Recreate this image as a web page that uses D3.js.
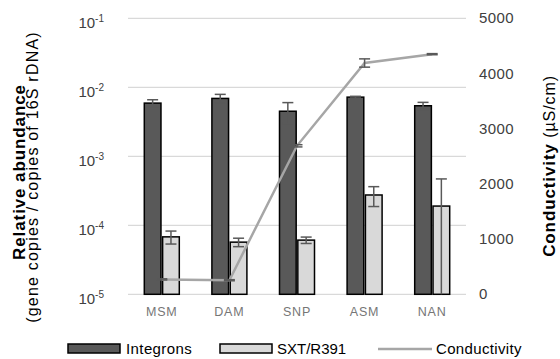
<!DOCTYPE html>
<html>
<head>
<style>
  html, body { margin: 0; padding: 0; background: #fff; overflow: hidden; }
  text { font-family: "Liberation Sans", Arial, sans-serif; }
</style>
</head>
<body>
<script src="https://d3js.org/d3.v7.min.js"></script>
<script>
  // data
  const sites = ["MSM", "DAM", "SNP", "ASM", "NAN"];
  const integrons = [5.9e-3, 6.9e-3, 4.5e-3, 7.2e-3, 5.4e-3];
  const integronsErr = [0.7e-3, 1.0e-3, 1.5e-3, 0.2e-3, 0.65e-3];
  const sxt = [6.8e-5, 5.7e-5, 6.1e-5, 2.75e-4, 1.9e-4];
  const sxtErr = [1.45e-5, 0.8e-5, 0.65e-5, 0.88e-4, 2.8e-4];
  const conductivity = [270, 255, 2690, 4190, 4350];
  const conductivityErr = [10, 10, 20, 75, 10];
  const leftTicks = [1e-5, 1e-4, 1e-3, 1e-2, 1e-1];
  const rightTicks = [0, 1000, 2000, 3000, 4000, 5000];

  const width = 560, height = 359;
  const plotLeft = 128, plotRight = 466, plotTop = 18.3, plotBottom = 294.3;

  const svg = d3.select("body").append("svg")
    .attr("width", width)
    .attr("height", height);

  const x0 = d3.scaleBand().domain(sites).range([plotLeft, plotRight]);
  const x1 = d3.scaleBand().domain(["Integrons", "SXT/R391"])
    .range([x0.bandwidth() / 2 - 17.5, x0.bandwidth() / 2 + 17.5])
    .paddingInner(0.09);
  const y = d3.scaleLog().domain([1e-5, 1e-1]).range([plotBottom, plotTop]);
  const y2 = d3.scaleLinear().domain([0, 5000]).range([plotBottom, plotTop]);
  const cx = d => x0(d) + x0.bandwidth() / 2;

  // gridlines
  svg.append("g").selectAll("line")
    .data(leftTicks)
    .join("line")
    .attr("x1", plotLeft).attr("x2", plotRight)
    .attr("y1", d => y(d)).attr("y2", d => y(d))
    .attr("stroke", "#d9d9d9")
    .attr("stroke-width", 1.3);

  // left tick labels 10^n
  const lt = svg.append("g").selectAll("text")
    .data(leftTicks)
    .join("text")
    .attr("x", 104)
    .attr("y", d => y(d) + 9.3)
    .attr("text-anchor", "end")
    .attr("font-size", 15)
    .attr("fill", "#404040");
  lt.append("tspan").text("10");
  lt.append("tspan").attr("font-size", 10).attr("dy", -5.5)
    .text(d => Math.round(Math.log10(d)));

  // right tick labels
  svg.append("g").selectAll("text")
    .data(rightTicks)
    .join("text")
    .attr("x", 479)
    .attr("y", d => y2(d) + 5)
    .attr("font-size", 15)
    .attr("letter-spacing", 0.4)
    .attr("fill", "#404040")
    .text(d => d);

  // category labels
  svg.append("g").selectAll("text")
    .data(sites)
    .join("text")
    .attr("x", d => cx(d))
    .attr("y", 316)
    .attr("text-anchor", "middle")
    .attr("font-size", 12.5)
    .attr("letter-spacing", 0.8)
    .attr("fill", "#767676")
    .text(d => d);

  // bars
  const series = [
    { name: "Integrons", values: integrons, err: integronsErr, fill: "#595959" },
    { name: "SXT/R391", values: sxt, err: sxtErr, fill: "#d9d9d9" }
  ];
  series.forEach(s => {
    const rows = sites.map((site, i) => ({ site, v: s.values[i], e: s.err[i] }));
    svg.append("g").selectAll("rect")
      .data(rows)
      .join("rect")
      .attr("x", d => x0(d.site) + x1(s.name))
      .attr("width", x1.bandwidth())
      .attr("y", d => y(d.v))
      .attr("height", d => plotBottom - y(d.v))
      .attr("fill", s.fill)
      .attr("stroke", "#000")
      .attr("stroke-width", 1.5);
  });

  // bar error bars
  series.forEach(s => {
    const rows = sites.map((site, i) => ({ site, v: s.values[i], e: s.err[i] }));
    const g = svg.append("g").attr("stroke", "#595959").attr("stroke-width", 1.5);
    const bx = d => x0(d.site) + x1(s.name) + x1.bandwidth() / 2;
    const lo = d => d.v - d.e > 1e-5 ? y(d.v - d.e) : plotBottom;
    g.selectAll(".v").data(rows).join("line")
      .attr("x1", bx).attr("x2", bx)
      .attr("y1", d => y(d.v + d.e)).attr("y2", lo);
    g.append("g").selectAll("line").data(rows).join("line")
      .attr("x1", d => bx(d) - 5.5).attr("x2", d => bx(d) + 5.5)
      .attr("y1", d => y(d.v + d.e)).attr("y2", d => y(d.v + d.e));
    g.append("g").selectAll("line").data(rows.filter(d => d.v - d.e > 1e-5)).join("line")
      .attr("x1", d => bx(d) - 5.5).attr("x2", d => bx(d) + 5.5)
      .attr("y1", d => y(d.v - d.e)).attr("y2", d => y(d.v - d.e));
  });

  // conductivity line
  const cond = sites.map((site, i) => ({ site, v: conductivity[i], e: conductivityErr[i] }));
  svg.append("path")
    .datum(cond)
    .attr("fill", "none")
    .attr("stroke", "#a6a6a6")
    .attr("stroke-width", 2.5)
    .attr("d", d3.line().x(d => cx(d.site)).y(d => y2(d.v)));

  const ce = svg.append("g").attr("stroke", "#595959").attr("stroke-width", 1.5);
  ce.append("g").selectAll("line").data(cond).join("line")
    .attr("x1", d => cx(d.site)).attr("x2", d => cx(d.site))
    .attr("y1", d => y2(d.v + d.e)).attr("y2", d => y2(d.v - d.e));
  [1, -1].forEach(sign => {
    ce.append("g").selectAll("line").data(cond).join("line")
      .attr("x1", d => cx(d.site) - 5.5).attr("x2", d => cx(d.site) + 5.5)
      .attr("y1", d => y2(d.v + sign * d.e))
      .attr("y2", d => y2(d.v + sign * d.e));
  });

  // axis titles
  svg.append("text")
    .attr("transform", "translate(25,172) rotate(-90)")
    .attr("text-anchor", "middle")
    .attr("font-size", 17)
    .attr("font-weight", "bold")
    .attr("letter-spacing", 0.9)
    .attr("fill", "#000")
    .text("Relative abundance");
  svg.append("text")
    .attr("transform", "translate(38,177) rotate(-90)")
    .attr("text-anchor", "middle")
    .attr("font-size", 16)
    .attr("letter-spacing", 1.2)
    .attr("fill", "#000")
    .text("(gene copies / copies of 16S rDNA)");
  const rt = svg.append("text")
    .attr("transform", "translate(555,166) rotate(-90)")
    .attr("text-anchor", "middle")
    .attr("font-size", 17)
    .attr("letter-spacing", 0.9)
    .attr("fill", "#000");
  rt.append("tspan").attr("font-weight", "bold").text("Conductivity");
  rt.append("tspan").attr("font-size", 16).text(" (µS/cm)");

  // legend
  const legend = svg.append("g").attr("font-size", 15).attr("fill", "#000");
  legend.append("rect").attr("x", 68).attr("y", 344).attr("width", 52).attr("height", 9)
    .attr("fill", "#595959").attr("stroke", "#000").attr("stroke-width", 1.5);
  legend.append("text").attr("x", 126).attr("y", 354).attr("letter-spacing", 0.4).text("Integrons");
  legend.append("rect").attr("x", 220).attr("y", 344).attr("width", 52).attr("height", 9)
    .attr("fill", "#d9d9d9").attr("stroke", "#000").attr("stroke-width", 1.5);
  legend.append("text").attr("x", 277).attr("y", 354).text("SXT/R391");
  legend.append("line").attr("x1", 378).attr("x2", 432).attr("y1", 349).attr("y2", 349)
    .attr("stroke", "#a6a6a6").attr("stroke-width", 2.5);
  legend.append("text").attr("x", 436).attr("y", 354).attr("letter-spacing", 0.35).text("Conductivity");
</script>
</body>
</html>
